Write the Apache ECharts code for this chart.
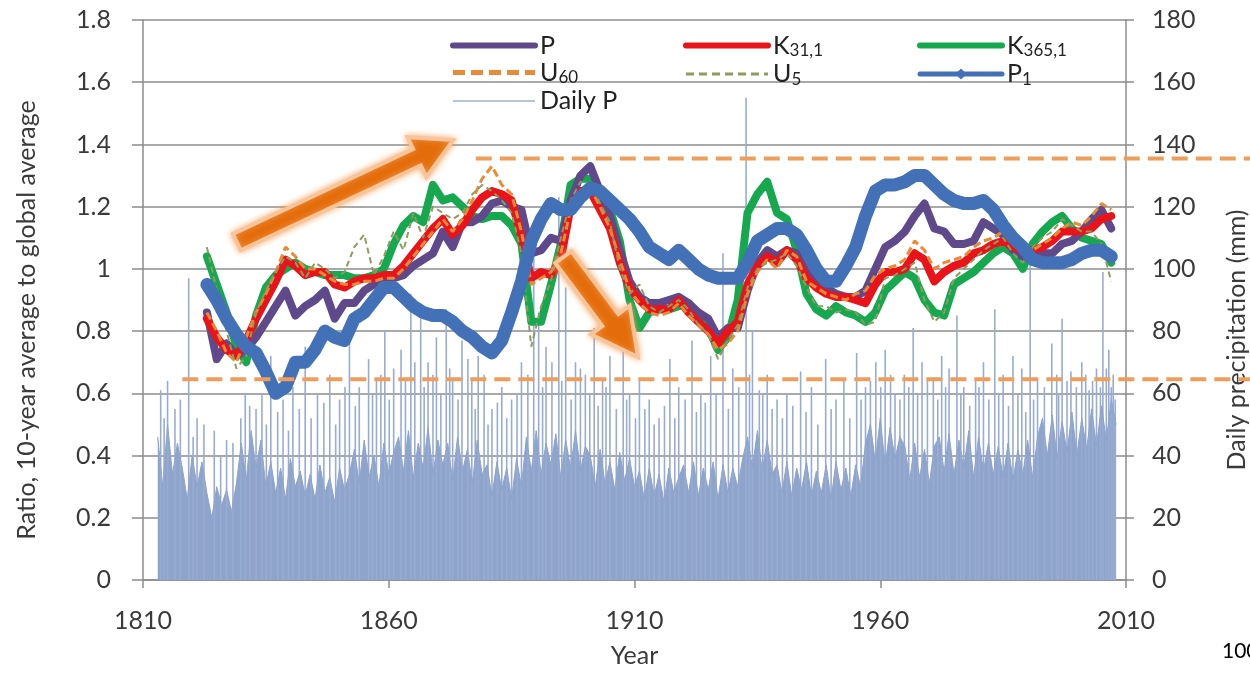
<!DOCTYPE html>
<html>
<head>
<meta charset="utf-8">
<script src="https://cdn.jsdelivr.net/npm/echarts@6/dist/echarts.min.js"></script>
<style>
  html, body { margin: 0; padding: 0; background: #fff; }
  #main { width: 1250px; height: 682px; }
</style>
</head>
<body>
<div id="main"></div>
<script>
// smoothed series are read every 2 years, 1823..2007
const years = [];
for (let y = 1823; y <= 2007; y += 2) years.push(y);

const valP = [
  0.86,0.71,0.76,0.72,0.74,0.78,0.83,0.88,0.93,0.85,
  0.88,0.90,0.93,0.84,0.89,0.89,0.93,0.95,0.97,0.97,
  0.98,1.01,1.03,1.05,1.12,1.07,1.15,1.15,1.17,1.21,
  1.22,1.20,1.19,1.05,1.06,1.10,1.09,1.22,1.30,1.33,
  1.25,1.17,1.06,0.96,0.91,0.89,0.89,0.90,0.91,0.89,
  0.86,0.84,0.78,0.81,0.81,0.93,1.02,1.06,1.04,1.06,
  1.05,0.99,0.96,0.94,0.92,0.91,0.91,0.93,1.00,1.07,
  1.09,1.12,1.17,1.21,1.13,1.12,1.08,1.08,1.09,1.15,
  1.13,1.11,1.06,1.04,1.03,1.05,1.05,1.08,1.09,1.12,
  1.16,1.19,1.13
];
const valK31 = [
  0.84,0.78,0.74,0.72,0.77,0.84,0.90,0.96,1.03,1.01,
  0.98,0.99,0.99,0.95,0.94,0.96,0.97,0.97,0.98,0.98,
  1.01,1.05,1.09,1.13,1.16,1.11,1.14,1.19,1.23,1.25,
  1.24,1.22,1.10,0.97,0.99,0.98,1.03,1.20,1.25,1.25,
  1.19,1.13,1.02,0.94,0.90,0.87,0.87,0.87,0.90,0.86,
  0.83,0.80,0.76,0.80,0.83,0.95,1.01,1.04,1.02,1.06,
  1.03,0.97,0.94,0.92,0.91,0.91,0.90,0.89,0.95,0.99,
  0.99,1.00,1.05,1.03,0.96,0.99,1.01,1.02,1.05,1.06,
  1.08,1.09,1.07,1.06,1.06,1.07,1.09,1.12,1.12,1.12,
  1.13,1.16,1.17
];
const valK365 = [
  1.04,0.95,0.86,0.75,0.70,0.85,0.94,0.98,1.00,1.02,
  1.00,0.99,0.98,0.98,0.98,0.97,0.97,0.98,1.00,1.08,
  1.14,1.17,1.15,1.27,1.22,1.23,1.20,1.17,1.16,1.17,
  1.17,1.14,1.08,0.83,0.83,0.95,1.08,1.27,1.29,1.29,
  1.25,1.19,1.09,0.90,0.81,0.86,0.87,0.87,0.88,0.89,
  0.85,0.81,0.74,0.78,0.90,1.18,1.24,1.28,1.18,1.16,
  1.06,0.92,0.87,0.85,0.88,0.86,0.85,0.83,0.86,0.93,
  0.96,0.99,0.97,0.90,0.86,0.85,0.95,0.97,0.99,1.02,
  1.05,1.07,1.05,1.00,1.08,1.12,1.15,1.17,1.13,1.10,
  1.09,1.08,1.02
];
const valU60 = [
  0.86,0.80,0.73,0.70,0.78,0.86,0.92,0.99,1.07,1.04,
  1.00,1.00,0.98,0.96,0.95,0.95,0.96,0.96,0.97,0.97,
  1.00,1.04,1.08,1.12,1.16,1.12,1.16,1.22,1.29,1.33,
  1.27,1.24,1.12,0.95,0.97,0.99,1.05,1.19,1.24,1.26,
  1.20,1.13,1.03,0.93,0.89,0.86,0.85,0.86,0.89,0.85,
  0.82,0.79,0.74,0.76,0.80,0.92,0.99,1.03,1.00,1.06,
  1.04,0.96,0.94,0.92,0.91,0.90,0.92,0.93,0.98,1.00,
  1.01,1.03,1.09,1.06,1.00,1.02,1.03,1.04,1.07,1.09,
  1.10,1.12,1.08,1.07,1.06,1.08,1.10,1.13,1.15,1.14,
  1.17,1.21,1.19
];
const valU5 = [
  1.07,0.93,0.80,0.68,0.72,0.86,0.93,0.99,1.04,1.02,
  0.97,1.02,1.00,0.97,0.99,1.07,1.11,0.98,1.04,1.12,
  1.06,1.18,1.10,1.20,1.18,1.16,1.18,1.24,1.27,1.25,
  1.22,1.18,1.05,0.75,0.88,0.96,1.10,1.22,1.28,1.27,
  1.21,1.15,1.00,0.92,0.95,0.88,0.86,0.88,0.90,0.87,
  0.82,0.79,0.71,0.77,0.82,0.94,1.00,1.02,1.03,1.05,
  1.01,0.94,0.88,0.88,0.86,0.87,0.86,0.82,0.83,0.97,
  0.98,1.00,1.02,0.90,0.83,0.86,0.97,1.00,1.03,1.06,
  1.08,1.10,1.05,1.02,1.07,1.10,1.12,1.16,1.14,1.12,
  1.12,1.08,0.96
];
const valP1 = [
  0.95,0.90,0.84,0.79,0.75,0.73,0.67,0.60,0.62,0.70,
  0.70,0.74,0.80,0.78,0.77,0.84,0.86,0.90,0.94,0.94,
  0.91,0.88,0.86,0.85,0.85,0.83,0.80,0.78,0.75,0.73,
  0.77,0.86,0.96,1.09,1.16,1.21,1.19,1.19,1.23,1.26,
  1.25,1.22,1.19,1.16,1.12,1.07,1.05,1.03,1.06,1.03,
  1.00,0.98,0.97,0.97,0.97,1.02,1.09,1.11,1.13,1.13,
  1.11,1.06,1.00,0.96,0.96,1.01,1.07,1.17,1.25,1.27,
  1.27,1.28,1.30,1.30,1.27,1.24,1.22,1.21,1.21,1.22,
  1.19,1.14,1.10,1.07,1.03,1.02,1.02,1.02,1.03,1.05,
  1.06,1.06,1.04
];

// daily precipitation (mm): yearly top of the dense band, 1813..2008
const dailyStart = 1813;
const dailyBand = [
  46,30,50,34,44, 36,26,40,30,38,
  28,20,30,24,29,22,31, 44,32,48,36,45,30,
  38,28,36,26,39,30,35,27, 34,26,37,28,33,25,36,29,34,
  42,31,45,33,40,30,44,34,41, 46,35,48,33,44,36,49,34,45,37,
  44,32,46,35,42,31,45,34, 37,27,38,29,36,26,39,30,
  46,35,48,34,44,37,47,33,45,36,48,35,43,
  40,30,42,31,38,29,41,32,39,30, 35,26,36,27,34,25,36,28,33,
  37,28,38,27,36,29,38,26,37,28,36,30,39, 46,36,48,35,45,34,
  37,28,38,27,36,29,38,27,35,28,37,26,38,29,36,27,37,30,44,
  50,38,52,37,49,39,46, 43,32,44,33,42,31,43,
  46,35,47,34,45,36,48,33,46,35,44,34, 43,33,44,32,42,34,45,33,46,
  52,40,53,39,51,41,54,40,52,42,55,43,56,45,58,50
];
// daily precipitation: single wet days standing above the band [year, mm]
const dailySpikes = [
  [1813.6,61],[1815.0,64],[1816.5,55],[1819.3,97],[1821,52],[1824.5,48],[1827,45],
  [1830.8,60],[1833,55],[1836.0,72],[1838.5,58],[1840.5,62],[1843.0,75],[1845.5,60],
  [1848,66],[1850,58],[1852.0,80],[1854,62],[1855.9,71],[1857.5,64],[1859.2,80],
  [1861,68],[1862.5,74],[1864.5,92],[1866.5,84],[1868,70],[1869.7,78],[1871.7,87],
  [1873,65],[1874.9,77],[1876.1,71],[1878.2,72],[1879.4,66],[1881,55],[1883,62],
  [1885,58],[1887,70],[1889.5,112],[1890.5,86],[1892,75],[1894.6,123],[1896,94],
  [1898,70],[1900,66],[1901.8,81],[1903.5,64],[1905,72],[1907.7,77],[1909,60],
  [1911,64],[1913,58],[1915,52],[1917.2,71],[1919,62],[1921.7,77],[1923.5,60],
  [1925.5,72],[1928,105],[1930,68],[1932.7,155],[1934,80],[1935.4,61],[1937,66],
  [1939,58],[1941,60],[1943.8,67],[1946,62],[1948.9,71],[1951,58],[1952.6,64],
  [1955.2,73],[1957,62],[1959.1,70],[1961,74],[1963,60],[1964.9,66],[1966.7,81],
  [1968.5,70],[1970.8,65],[1972.5,72],[1974,68],[1975.6,85],[1977,62],[1979.4,64],
  [1981,70],[1983.3,87],[1985,66],[1987,72],[1988.8,68],[1990.5,106],[1992,64],
  [1994.9,76],[1997,84],[1998.8,67],[2001,70],[2002.5,61],[2004,68],[2005.3,99],
  [2006.5,74],[2007.4,66],
  [1814.3,52],[1817.6,58],[1820.2,46],[1822.4,50],[1825.8,40],[1828.3,44],[1829.9,52],
  [1831.7,56],[1834.2,60],[1835.1,50],[1837.4,54],[1839.6,48],[1841.8,55],[1844.2,52],
  [1846.8,57],[1849.2,50],[1851.1,62],[1853.2,56],[1856.7,60],[1858.4,66],[1860.1,58],
  [1863.4,64],[1865.3,70],[1867.2,62],[1869.0,66],[1870.6,60],[1872.4,68],[1874.1,58],
  [1876.9,64],[1877.6,55],[1880.2,50],[1882.1,57],[1884.0,52],[1886.1,60],[1888.3,66],
  [1891.3,62],[1893.2,70],[1895.2,64],[1897.1,58],[1899.0,68],[1900.9,60],[1902.6,56],
  [1904.2,62],[1906.3,55],[1908.4,58],[1910.2,52],[1912.1,55],[1914.0,50],[1916.1,56],
  [1918.2,52],[1920.3,58],[1922.6,54],[1924.4,57],[1926.6,60],[1929.1,55],[1931.2,62],
  [1933.4,66],[1936.1,60],[1938.0,55],[1940.1,52],[1942.2,56],[1944.9,54],[1947.3,50],
  [1950.0,55],[1953.8,52],[1956.1,58],[1958.0,64],[1960.1,62],[1962.1,66],[1964.0,58],
  [1965.8,62],[1967.6,60],[1969.6,64],[1971.7,58],[1973.3,62],[1976.4,60],[1978.2,56],
  [1980.1,62],[1982.1,58],[1984.1,60],[1986.1,56],[1988.0,60],[1989.6,54],[1991.2,58],
  [1993.4,62],[1995.9,66],[1996.3,60],[1998.0,64],[1999.9,62],[2001.8,66],[2003.2,64],
  [2004.8,62],[2006.0,68],[2007.0,62],[2007.8,58]
];

// orange threshold lines (ratio axis), running past the right axis to the page edge
const refHigh = [[1877.7, 1.355], [2036, 1.355]];
const refLow = [[1818, 0.645], [2036, 0.645]];

const pair = arr => years.map((y, i) => [y, arr[i]]);
const FONT = 'Lato';

const chart = echarts.init(document.getElementById('main'));

function subName(name) {
  const m = name.match(/^([A-Z])(\d[\d,]*)$/);
  return m ? '{b|' + m[1] + '}{s|' + m[2] + '}' : '{b|' + name + '}';
}
const noDot = {color: 'rgba(0,0,0,0)', borderColor: 'rgba(0,0,0,0)', borderWidth: 0};
const legendBase = {
  orient: 'vertical',
  itemWidth: 82,
  itemHeight: 14,
  itemGap: 2,
  selectedMode: false,
  formatter: subName,
  textStyle: {
    rich: {
      b: {fontFamily: FONT, fontSize: 25, color: '#222', lineHeight: 28},
      s: {fontFamily: FONT, fontSize: 17, color: '#222', lineHeight: 28, verticalAlign: 'bottom'}
    }
  }
};
const axisGray = {color: '#8c8c8c', width: 1.5};
const labelStyle = {fontFamily: FONT, fontSize: 25, color: '#3a3a3a'};

chart.setOption({
  animation: false,
  backgroundColor: '#fff',
  grid: [
    {left: 143, right: 124, top: 20, bottom: 102},
    {left: 143, right: 0, top: 20, bottom: 102}
  ],
  legend: [
    Object.assign({}, legendBase, {left: 445, top: 28, data: [
      {name: 'P', itemStyle: noDot, lineStyle: {width: 6}},
      {name: 'U60', itemStyle: noDot, lineStyle: {width: 5, type: [12, 6]}},
      {name: 'Daily P', itemStyle: noDot, lineStyle: {width: 2, color: '#b7c4dc'}}
    ]}),
    Object.assign({}, legendBase, {left: 678, top: 28, data: [
      {name: 'K31,1', itemStyle: noDot, lineStyle: {width: 6}},
      {name: 'U5', itemStyle: noDot, lineStyle: {width: 3, type: [8, 5]}}
    ]}),
    Object.assign({}, legendBase, {left: 912, top: 28, data: [
      {name: 'K365,1', itemStyle: noDot, lineStyle: {width: 6}},
      {name: 'P1', lineStyle: {width: 5}, itemStyle: {color: '#4371b8', borderWidth: 0}}
    ]})
  ],
  xAxis: [
    {
      type: 'value', min: 1810, max: 2010, interval: 50,
      name: 'Year', nameLocation: 'middle', nameGap: 63,
      nameTextStyle: labelStyle,
      axisLine: {lineStyle: axisGray},
      axisTick: {length: 8, lineStyle: axisGray},
      axisLabel: Object.assign({margin: 28, formatter: v => String(v)}, labelStyle),
      splitLine: {show: false}
    },
    {
      // same scale as the main x axis, stretched to the page edge
      type: 'value', gridIndex: 1, min: 1810, max: 1810 + 200 * 1107 / 983, show: false
    }
  ],
  yAxis: [
    {
      type: 'value', min: 0, max: 1.8, interval: 0.2,
      axisLine: {show: true, lineStyle: axisGray},
      axisTick: {show: true, length: 11, lineStyle: axisGray},
      axisLabel: Object.assign({margin: 32}, labelStyle),
      splitLine: {lineStyle: axisGray}
    },
    {
      type: 'value', min: 0, max: 180, interval: 20, position: 'right',
      axisLine: {show: true, lineStyle: axisGray},
      axisTick: {show: true, length: 8, lineStyle: axisGray},
      axisLabel: Object.assign({margin: 26}, labelStyle),
      splitLine: {show: false}
    },
    {type: 'value', gridIndex: 1, min: 0, max: 1.8, show: false}
  ],
  series: [
    {
      name: 'Daily P', type: 'line', yAxisIndex: 1, symbol: 'none', z: 1,
      data: dailyBand.map((v, i) => [dailyStart + i, v]),
      lineStyle: {width: 1, color: '#8fa4cb'},
      areaStyle: {color: '#8fa4cb', opacity: 1}
    },
    {
      name: 'Daily P spikes', type: 'bar', yAxisIndex: 1, barWidth: 1.6, z: 1,
      data: dailySpikes,
      itemStyle: {color: '#98acd2'}
    },
    {
      name: 'K365,1', type: 'line', symbol: 'none', data: pair(valK365),
      lineStyle: {width: 8, color: '#16a84f', cap: 'round', join: 'round'}, itemStyle: {color: '#16a84f'}
    },
    {
      name: 'P', type: 'line', symbol: 'none', data: pair(valP),
      lineStyle: {width: 8, color: '#5e4a8b', cap: 'round', join: 'round'}, itemStyle: {color: '#5e4a8b'}
    },
    {
      name: 'K31,1', type: 'line', symbol: 'none', data: pair(valK31),
      lineStyle: {width: 8, color: '#e8141a', cap: 'round', join: 'round'}, itemStyle: {color: '#e8141a'}
    },
    {
      name: 'U60', type: 'line', symbol: 'none', data: pair(valU60),
      lineStyle: {width: 3, color: '#e98a36', type: [8, 4]}, itemStyle: {color: '#e98a36'}
    },
    {
      name: 'U5', type: 'line', symbol: 'none', data: pair(valU5),
      lineStyle: {width: 2, color: '#8d9c5c', type: [6, 4]}, itemStyle: {color: '#8d9c5c'}
    },
    {
      name: 'P1', type: 'line', symbol: 'diamond', showSymbol: false, data: pair(valP1),
      lineStyle: {width: 13, color: '#4371b8', cap: 'round', join: 'round'}, itemStyle: {color: '#4371b8'}
    },
    {
      name: 'refHigh', type: 'line', xAxisIndex: 1, yAxisIndex: 2, symbol: 'none', z: 5, data: refHigh,
      lineStyle: {width: 4, color: '#ee9e5a', type: [16, 8]}, silent: true
    },
    {
      name: 'refLow', type: 'line', xAxisIndex: 1, yAxisIndex: 2, symbol: 'none', z: 5, data: refLow,
      lineStyle: {width: 4, color: '#ee9e5a', type: [16, 8]}, silent: true
    }
  ]
});

// trend arrows, anchored in data coordinates
function arrow(from, to, shaft, headW, headL) {
  const a = chart.convertToPixel({gridIndex: 0}, from);
  const b = chart.convertToPixel({gridIndex: 0}, to);
  const dx = b[0] - a[0], dy = b[1] - a[1];
  const len = Math.sqrt(dx * dx + dy * dy);
  const ux = dx / len, uy = dy / len, nx = -uy, ny = ux;
  const bx = b[0] - ux * headL, by = b[1] - uy * headL;
  const p = (x, y, k) => [x + nx * k, y + ny * k];
  return {
    type: 'polygon', z: 100,
    shape: {points: [
      p(a[0], a[1], shaft / 2), p(bx, by, shaft / 2), p(bx, by, headW / 2), b,
      p(bx, by, -headW / 2), p(bx, by, -shaft / 2), p(a[0], a[1], -shaft / 2)
    ]},
    style: {fill: '#e46c0a', stroke: '#f8c49a', lineWidth: 4, lineJoin: 'miter',
      shadowBlur: 6, shadowColor: 'rgba(245,160,90,0.8)'}
  };
}

chart.setOption({
  graphic: [
    {type: 'text', x: 27, y: 320, rotation: Math.PI / 2,
      style: {text: 'Ratio, 10-year average to global average', fontFamily: FONT, fontSize: 25,
        fill: '#3a3a3a', align: 'center', verticalAlign: 'middle'}},
    {type: 'text', x: 1237, y: 340, rotation: Math.PI / 2,
      style: {text: 'Daily precipitation (mm)', fontFamily: FONT, fontSize: 25,
        fill: '#3a3a3a', align: 'center', verticalAlign: 'middle'}},
    {type: 'text', x: 1222, y: 651,
      style: {text: '100', fontFamily: FONT, fontSize: 21, fill: '#000', align: 'left', verticalAlign: 'middle'}},
    arrow([1829.1, 1.086], [1873.1, 1.414], 18, 44, 40),
    arrow([1895.5, 1.038], [1910.7, 0.717], 20, 48, 46)
  ]
});
</script>
</body>
</html>
